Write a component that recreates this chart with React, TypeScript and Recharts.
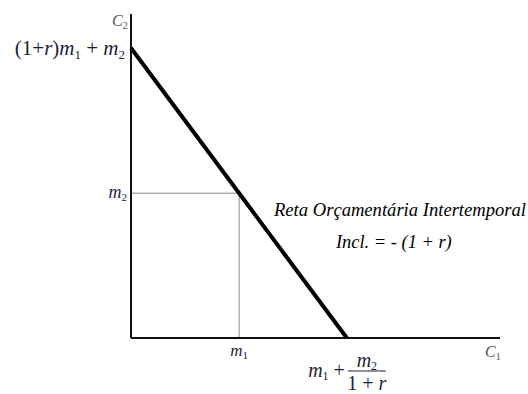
import React from 'react';
import { LineChart, Line, XAxis, YAxis, ReferenceLine } from 'recharts';

// ─── data (abstract units) ───
const m1 = 29.3;
const m2 = 44.7;
const xIntercept = 58.5; // m1 + m2/(1+r)
const yIntercept = 89.5; // (1+r)m1 + m2

const budgetLine = [
  { c1: 0, c2: yIntercept },
  { c1: xIntercept, c2: 0 },
];
const xTicks = [m1, xIntercept];
const yTicks = [m2, yIntercept];

const MATH_FONT = "'Liberation Serif', 'Times New Roman', serif";
const MATH_COLOR = '#1c1c3c';

const XTick = ({ x, y, payload }: any) => {
  if (payload.value === m1) {
    return (
      <text x={x} y={y + 10} textAnchor="middle" fontFamily={MATH_FONT} fontStyle="italic" fontSize={17} fill={MATH_COLOR}>
        m<tspan fontSize={11} fontStyle="normal" dy={3}>1</tspan>
      </text>
    );
  }
  return (
    <g fontFamily={MATH_FONT} fill={MATH_COLOR}>
      <text x={x - 2} y={y + 31} textAnchor="end" fontSize={20}>
        <tspan fontStyle="italic">m</tspan>
        <tspan fontSize={12} dy={3}>1</tspan>
        <tspan dy={-3}> +</tspan>
      </text>
      <text x={x + 20} y={y + 21} textAnchor="middle" fontSize={20}>
        <tspan fontStyle="italic">m</tspan>
        <tspan fontSize={12} dy={3}>2</tspan>
      </text>
      <line x1={x + 1} x2={x + 39} y1={y + 25} y2={y + 25} stroke={MATH_COLOR} strokeWidth={1} />
      <text x={x + 20} y={y + 44} textAnchor="middle" fontSize={20}>
        1 + <tspan fontStyle="italic">r</tspan>
      </text>
    </g>
  );
};

const YTick = ({ x, y, payload }: any) => {
  if (payload.value === m2) {
    return (
      <text x={x + 4} y={y + 5} textAnchor="end" fontFamily={MATH_FONT} fontStyle="italic" fontSize={18} fill={MATH_COLOR}>
        m<tspan fontSize={11} fontStyle="normal" dy={3}>2</tspan>
      </text>
    );
  }
  return (
    <text x={x + 2} y={y + 7} textAnchor="end" fontFamily={MATH_FONT} fontSize={21} fill={MATH_COLOR}>
      (1+<tspan fontStyle="italic">r</tspan>)<tspan fontStyle="italic">m</tspan>
      <tspan fontSize={13} dy={4}>1</tspan>
      <tspan dy={-4}> + </tspan>
      <tspan fontStyle="italic">m</tspan>
      <tspan fontSize={13} dy={4}>2</tspan>
    </text>
  );
};

export default function App() {
  return (
    <div style={{ position: 'absolute', left: 0, top: 0, background: '#fff' }}>
      <LineChart width={528} height={394} data={budgetLine} margin={{ top: 14, right: 28, bottom: 0, left: 0 }}>
        <XAxis
          type="number"
          dataKey="c1"
          domain={[0, 100]}
          ticks={xTicks}
          tick={<XTick />}
          tickLine={false}
          axisLine={{ stroke: '#111', strokeWidth: 2 }}
          height={56}
        />
        <YAxis
          type="number"
          dataKey="c2"
          domain={[0, 100]}
          ticks={yTicks}
          tick={<YTick />}
          tickLine={false}
          axisLine={{ stroke: '#111', strokeWidth: 2 }}
          width={131}
        />
        <ReferenceLine segment={[{ x: 0, y: m2 }, { x: m1, y: m2 }]} stroke="#888" strokeWidth={1} />
        <ReferenceLine segment={[{ x: m1, y: 0 }, { x: m1, y: m2 }]} stroke="#888" strokeWidth={1} />
        <Line
          type="linear"
          dataKey="c2"
          stroke="#000"
          strokeWidth={4}
          dot={false}
          isAnimationActive={false}
        />
        <text x={112} y={26} fontFamily={MATH_FONT} fontStyle="italic" fontSize={16} fill="#555">
          C<tspan fontSize={10} fontStyle="normal" dy={3}>2</tspan>
        </text>
        <text x={485} y={357} fontFamily={MATH_FONT} fontStyle="italic" fontSize={16} fill="#555">
          C<tspan fontSize={10} fontStyle="normal" dy={3}>1</tspan>
        </text>
        <text x={274} y={216} fontFamily={MATH_FONT} fontStyle="italic" fontSize={18.6} fill="#000">
          Reta Orçamentária Intertemporal
        </text>
        <text x={336} y={248} fontFamily={MATH_FONT} fontStyle="italic" fontSize={18.4} fill="#000">
          Incl. = - (1 + r)
        </text>
      </LineChart>
    </div>
  );
}
